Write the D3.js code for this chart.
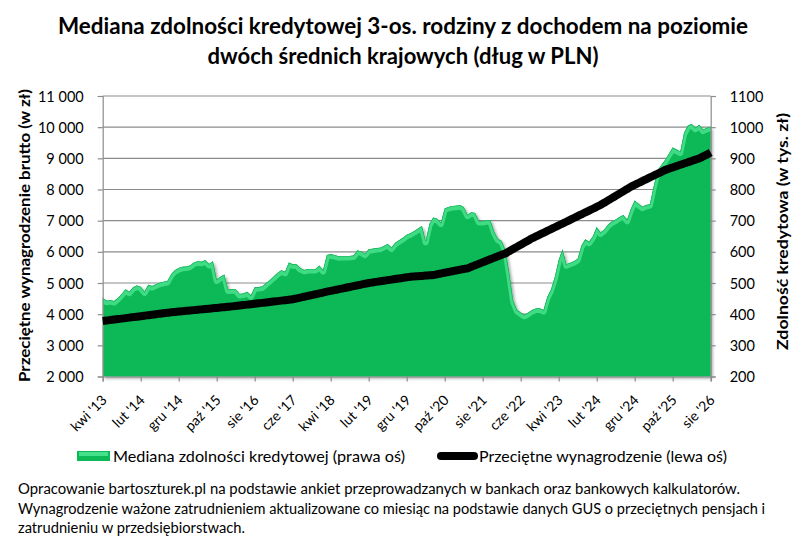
<!DOCTYPE html>
<html><head><meta charset="utf-8">
<script src="https://cdn.jsdelivr.net/npm/d3@7"></script>
<style>
html,body{margin:0;padding:0;background:#fff;}
svg{display:block;font-family:Lato,"Open Sans",sans-serif;}
</style></head>
<body>
<svg id="chart" width="807" height="544"></svg>
<script>
// ---- DATA ----
const startYear = 2013, startMonth = 3; // April 2013 (0-based month)
const monthNames = ["sty","lut","mar","kwi","maj","cze","lip","sie","wrz","paź","lis","gru"];
// Median credit capacity (thousand PLN) - right axis, monthly from Apr 2013
const capacity = [
453,443,445,442,452,465,480,472,486,492,488,473,494,490,496,501,504,506,528,541,
548,552,553,556,566,570,568,574,561,570,511,520,527,479,480,480,465,466,472,461,
486,487,489,500,510,521,532,541,536,566,560,560,548,542,545,545,545,556,542,590,
592,590,586,587,587,587,588,604,602,594,608,610,612,613,619,625,614,629,637,645,
655,660,667,675,683,635,690,710,706,694,739,744,747,748,750,744,719,727,725,699,
699,701,702,665,642,635,605,530,445,414,405,398,405,413,418,419,413,455,480,520,
574,608,560,565,570,578,620,640,632,650,680,662,672,688,697,704,712,718,703,738,
765,754,745,750,753,810,860,879,895,915,935,928,922,982,1005,1010,998,1008,992,998,
1001];
// Average gross wage (PLN) - left axis, monthly from Apr 2013
const wage = [
3780,3795,3810,3826,3842,3858,3874,3890,3905,3920,3936,3952,3968,3984,4000,4016,4032,4048,
4060,4072,4083,4095,4107,4118,4130,4142,4154,4165,4177,4189,4201,4213,4225,4237,4250,
4264,4278,4292,4306,4320,4334,4348,4362,4376,4390,4404,4419,4434,4449,4463,4477,
4504,4531,4558,4585,4612,4639,4666,4693,4721,
4746,4771,4797,4822,4848,4873,4898,4924,4949,4975,5000,
5018,5036,5054,5073,5091,5109,5127,5145,5164,5182,5200,
5209,5218,5228,5237,5246,5256,
5280,5304,5328,5352,5376,5400,5424,5448,5471,
5519,5567,5615,5663,5711,5760,5808,5856,5904,5952,
6021,6090,6159,6228,6296,6365,6434,
6493,6552,6611,6670,6729,6789,6848,6907,6966,
7026,7085,7145,7204,7264,7324,7383,7443,7502,
7575,7649,7722,7796,7869,7942,8016,8089,
8149,8208,8268,8327,8387,8446,8506,8565,8625,
8667,8708,8750,8792,8833,8875,8917,8958,9000,
9060,9120,9185];
const leftTicks = [2000,3000,4000,5000,6000,7000,8000,9000,10000,11000];
const rightTicks = [200,300,400,500,600,700,800,900,1000,1100];
const tickEvery = 10; // months between x labels
const titleLines = ["Mediana zdolności kredytowej 3-os. rodziny z dochodem na poziomie","dwóch średnich krajowych (dług w PLN)"];
const footerLines = ["Opracowanie bartoszturek.pl na podstawie ankiet przeprowadzanych w bankach oraz bankowych kalkulatorów.",
"Wynagrodzenie ważone zatrudnieniem aktualizowane co miesiąc na podstawie danych GUS o przeciętnych pensjach i",
"zatrudnieniu w przedsiębiorstwach."];
const legendLabels = ["Mediana zdolności kredytowej (prawa oś)","Przeciętne wynagrodzenie (lewa oś)"];
const yLeftTitle = "Przeciętne wynagrodzenie brutto (w zł)";
const yRightTitle = "Zdolność kredytowa (w tys. zł)";

// ---- CHART ----
const svg = d3.select("#chart");
const L = 102.7, R = 710.7, T = 96, B = 376.5;
const n = capacity.length;
const x = d3.scaleLinear().domain([0, n-1]).range([L, R]);
const yL = d3.scaleLinear().domain([2000, 11000]).range([B, T]);
const yR = d3.scaleLinear().domain([200, 1100]).range([B, T]);
const fmt = v => d3.format(",")(v).replace(/,/g, " ");
function label(i){
  const m = (startMonth + i) % 12;
  const y = startYear + Math.floor((startMonth + i)/12);
  return monthNames[m] + " '" + String(y).slice(2);
}

const defs = svg.append("defs");
const f = defs.append("filter").attr("id","sh").attr("x","-5%").attr("y","-10%").attr("width","115%").attr("height","130%");
f.append("feDropShadow").attr("dx",2).attr("dy",2).attr("stdDeviation",1.6).attr("flood-color","#000").attr("flood-opacity",0.35);
defs.append("clipPath").attr("id","areaClip").append("path")
  .attr("d", d3.area().x((d,i)=>x(i)).y0(yR(200)).y1(d=>yR(d))(capacity));

// gridlines
svg.append("g").selectAll("line").data(leftTicks.slice(1)).join("line")
  .attr("x1", L).attr("x2", R).attr("y1", d=>yL(d)).attr("y2", d=>yL(d))
  .attr("stroke", "#8c8c8c").attr("stroke-width", 1.2);

// area
const areaGen = d3.area().x((d,i)=>x(i)).y0(yR(200)).y1(d=>yR(d));
svg.append("path").attr("d", areaGen(capacity)).attr("fill","#0bb956").attr("filter","url(#sh)");
const topLine = d3.line().x((d,i)=>x(i)).y(d=>yR(d));
const hl = svg.append("g").attr("clip-path","url(#areaClip)");
hl.append("path").attr("d", topLine(capacity)).attr("fill","none")
  .attr("stroke","#3fdc85").attr("stroke-width",6).attr("transform","translate(0,1.5)").attr("stroke-linejoin","round");
hl.append("path").attr("d", topLine(capacity)).attr("fill","none")
  .attr("stroke","#0a9e48").attr("stroke-width",1.2).attr("opacity",0.7);

// axes
const axL = d3.axisLeft(yL).tickValues(leftTicks).tickSize(5).tickFormat(fmt);
const gL = svg.append("g").attr("transform",`translate(${L},0)`).call(axL);
const axR = d3.axisRight(yR).tickValues(rightTicks).tickSize(5).tickFormat(d=>d);
const gR = svg.append("g").attr("transform",`translate(${R},0)`).call(axR);
const xt = d3.range(0, n, tickEvery);
const axX = d3.axisBottom(x).tickValues(xt).tickSize(5).tickFormat(label);
const gX = svg.append("g").attr("transform",`translate(0,${B})`).call(axX);
[gL,gR,gX].forEach(g=>{
  g.select(".domain").attr("stroke","#8c8c8c").attr("stroke-width",1.2);
  g.selectAll(".tick line").attr("stroke","#8c8c8c").attr("stroke-width",1.2);
  g.selectAll("text").attr("fill","#000").attr("font-family","Lato").attr("font-size",14.5);
});
gL.selectAll("text").attr("x",-19).attr("dy","0.35em");
gR.selectAll("text").attr("x",19).attr("dy","0.35em");
gX.selectAll(".tick text").attr("text-anchor","end").attr("font-size",14)
  .attr("transform","translate(1,21) rotate(-45)").attr("dy","0.35em").attr("y",0).attr("x",0);

// wage line
svg.append("path").attr("d", d3.line().x((d,i)=>x(i)).y(d=>yL(d)).curve(d3.curveMonotoneX)(wage))
  .attr("fill","none").attr("stroke","#000").attr("stroke-width",8).attr("stroke-linejoin","round");

// titles
const titleLen = [690, 391];
svg.append("g").selectAll("text").data(titleLines).join("text")
  .attr("x",403).attr("y",(d,i)=>34+i*30).attr("text-anchor","middle")
  .attr("font-weight","bold").attr("font-size",22).attr("fill","#000")
  .attr("textLength",(d,i)=>titleLen[i]).attr("lengthAdjust","spacingAndGlyphs").text(d=>d);

svg.append("text").attr("transform","translate(30,235.5) rotate(-90)").attr("text-anchor","middle")
  .attr("font-weight","bold").attr("font-size",15).attr("textLength",293).attr("lengthAdjust","spacingAndGlyphs").text(yLeftTitle);
svg.append("text").attr("transform","translate(788,231.5) rotate(-90)").attr("text-anchor","middle")
  .attr("font-weight","bold").attr("font-size",15).attr("textLength",237).attr("lengthAdjust","spacingAndGlyphs").text(yRightTitle);

// legend
const lg = svg.append("g");
lg.append("rect").attr("x",77).attr("y",451).attr("width",33).attr("height",10).attr("fill","#0bb956");
lg.append("rect").attr("x",79).attr("y",452).attr("width",29).attr("height",4).attr("fill","#45e08c");
lg.append("text").attr("x",113).attr("y",462).attr("font-size",16).attr("textLength",292).attr("lengthAdjust","spacingAndGlyphs").text(legendLabels[0]);
lg.append("line").attr("x1",441).attr("x2",474).attr("y1",456).attr("y2",456)
  .attr("stroke","#000").attr("stroke-width",8).attr("stroke-linecap","round");
lg.append("text").attr("x",479).attr("y",462).attr("font-size",16).attr("textLength",248).attr("lengthAdjust","spacingAndGlyphs").text(legendLabels[1]);

// footer
const footLen = [722, 747, 227];
svg.append("g").selectAll("text").data(footerLines).join("text")
  .attr("x",18).attr("y",(d,i)=>494+i*19.5).attr("font-size",14.5).attr("fill","#000")
  .attr("textLength",(d,i)=>footLen[i]).attr("lengthAdjust","spacingAndGlyphs").text(d=>d);
</script>
</body></html>
